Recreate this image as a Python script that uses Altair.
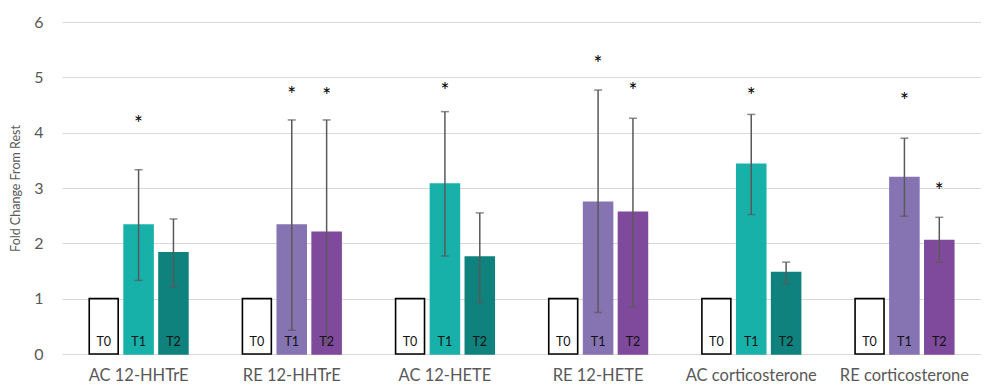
import altair as alt
import pandas as pd

groups = ["AC 12-HHTrE", "RE 12-HHTrE", "AC 12-HETE", "RE 12-HETE",
          "AC corticosterone", "RE corticosterone"]
times = ["T0", "T1", "T2"]
t0_values = [1, 1, 1, 1, 1, 1]
t1_values = [2.33, 2.33, 3.07, 2.74, 3.43, 3.19]
t2_values = [1.83, 2.20, 1.75, 2.56, 1.47, 2.05]
t1_low = [1.33, 0.43, 1.77, 0.75, 2.52, 2.49]
t1_high = [3.33, 4.23, 4.38, 4.77, 4.33, 3.90]
t2_low = [1.21, 0.20, 0.93, 0.85, 1.27, 1.66]
t2_high = [2.44, 4.23, 2.55, 4.26, 1.66, 2.47]
t1_star = [4.23, 4.77, 4.83, 5.33, 4.74, 4.65]
t2_star = [None, 4.74, None, 4.83, None, 3.02]

rows = []
for i, g in enumerate(groups):
    prefix = g.split(" ")[0]
    rows.append(dict(group=g, time="T0", key=prefix + "-T0", value=t0_values[i],
                     lo=None, hi=None, star=None, zero=0))
    rows.append(dict(group=g, time="T1", key=prefix + "-T1", value=t1_values[i],
                     lo=t1_low[i], hi=t1_high[i], star=t1_star[i], zero=0))
    rows.append(dict(group=g, time="T2", key=prefix + "-T2", value=t2_values[i],
                     lo=t2_low[i], hi=t2_high[i], star=t2_star[i], zero=0))
df = pd.DataFrame(rows)

key_domain = ["AC-T0", "RE-T0", "AC-T1", "AC-T2", "RE-T1", "RE-T2"]
fill_range = ["#ffffff", "#ffffff", "#18b1aa", "#0f827e", "#8673b2", "#7f4a9c"]
stroke_range = ["#000000", "#000000", "#18b1aa", "#0f827e", "#8673b2", "#7f4a9c"]

FONT = "Lato"
GREY = "#595959"

x_enc = alt.X("group:N", sort=groups,
              scale=alt.Scale(paddingInner=0.317, paddingOuter=0.1585),
              axis=alt.Axis(title=None, labelAngle=0, labelFontSize=16.5,
                            labelColor=GREY, labelPadding=13, domain=False,
                            ticks=False, grid=False, labelFont=FONT))
xo_enc = alt.XOffset("time:N", sort=times,
                     scale=alt.Scale(paddingInner=0.17, paddingOuter=0.085))
y_scale = alt.Scale(domain=[0, 6])

base = alt.Chart(df)

bars = base.mark_bar(strokeWidth=1.6).encode(
    x=x_enc, xOffset=xo_enc,
    y=alt.Y("value:Q", scale=y_scale,
            axis=alt.Axis(title="Fold Change From Rest", values=[0, 1, 2, 3, 4, 5, 6],
                          format="d",
                          titleFontSize=12.5, titleFontWeight="normal", titleColor=GREY,
                          titleFont=FONT, labelFont=FONT, labelFontSize=16,
                          labelColor=GREY, grid=True, gridColor="#d9d9d9",
                          domain=False, ticks=False, labelPadding=19,
                          titlePadding=11)),
    fill=alt.Fill("key:N", scale=alt.Scale(domain=key_domain, range=fill_range), legend=None),
    stroke=alt.Stroke("key:N", scale=alt.Scale(domain=key_domain, range=stroke_range), legend=None),
)

err = base.transform_filter("datum.time != 'T0'")
rules = err.mark_rule(color=GREY, strokeWidth=1.5).encode(
    x=x_enc, xOffset=xo_enc, y=alt.Y("lo:Q", scale=y_scale), y2="hi:Q")
cap_lo = err.mark_tick(color=GREY, thickness=1.5, size=8).encode(
    x=x_enc, xOffset=xo_enc, y=alt.Y("lo:Q", scale=y_scale))
cap_hi = err.mark_tick(color=GREY, thickness=1.5, size=8).encode(
    x=x_enc, xOffset=xo_enc, y=alt.Y("hi:Q", scale=y_scale))

stars = base.transform_filter("isValid(datum.star)").mark_text(
    text="*", fontSize=21, font=FONT, color="#000000", baseline="middle", dy=5.5
).encode(x=x_enc, xOffset=xo_enc, y=alt.Y("star:Q", scale=y_scale))

tlabels = base.mark_text(fontSize=12.5, font=FONT, color="#111111",
                         baseline="bottom", dy=-5).encode(
    x=x_enc, xOffset=xo_enc, y=alt.Y("zero:Q", scale=y_scale), text="time:N")

chart = alt.layer(bars, rules, cap_lo, cap_hi, stars, tlabels).properties(
    width=919, height=332,
    background="#ffffff",
    autosize=alt.AutoSizeParams(type="none"),
    padding={"left": 54, "top": 14, "right": 0, "bottom": 33},
).configure_view(stroke=None)

chart.save("out.html", embed_options={"renderer": "svg", "actions": False})
